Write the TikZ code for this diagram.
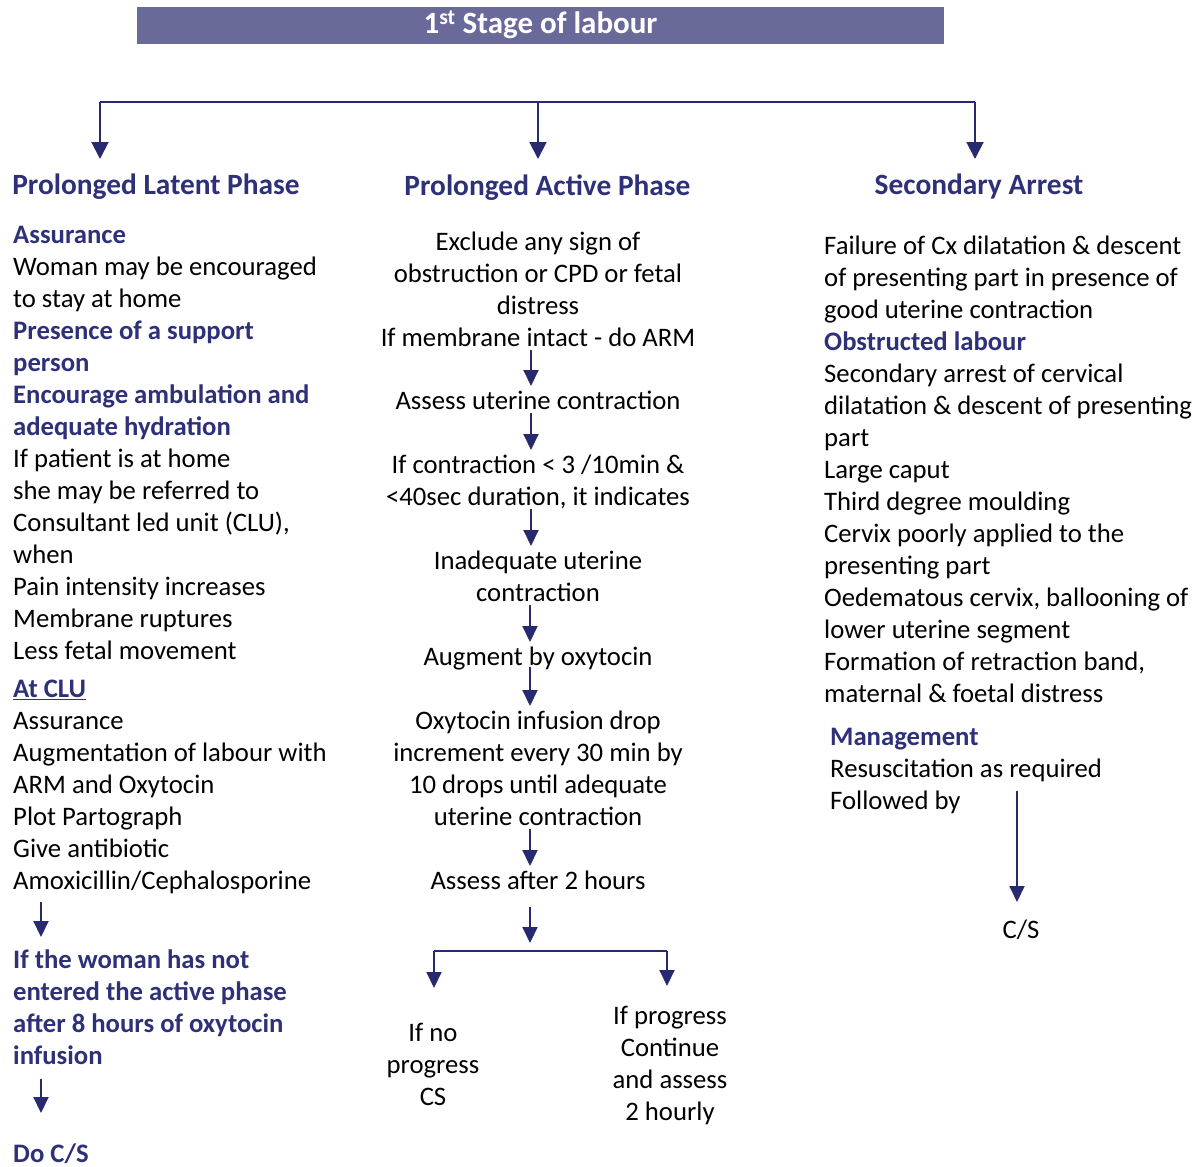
\documentclass[tikz,border=0pt]{standalone}
\usepackage{fontspec}
\setmainfont{Carlito}
\usetikzlibrary{arrows.meta}
\definecolor{barfill}{RGB}{106,106,154}
\definecolor{navy}{RGB}{46,48,120}
\definecolor{arrowc}{RGB}{40,42,112}
% struts that fix the height of a first line and the depth of a last line
\newcommand{\tp}{\rule{0pt}{22pt}}
\newcommand{\bt}{\rule[-5pt]{0pt}{5pt}}
\newcommand{\hd}[1]{{\bfseries\color{navy}#1}}

\begin{document}
\begin{tikzpicture}[x=1pt,y=-1pt,
  body/.style={inner sep=0pt, font=\fontsize{26.7}{32}\selectfont, align=left, anchor=north west},
  mid/.style={inner sep=0pt, font=\fontsize{26.7}{32}\selectfont, align=center, anchor=north},
  phase/.style={inner sep=0pt, font=\fontsize{29.4}{34}\selectfont\bfseries, text=navy, anchor=north},
  arr/.style={draw=arrowc, line width=2pt, -{Triangle[width=15pt,length=16pt]}},
  bigarr/.style={draw=arrowc, line width=2pt, -{Triangle[width=17pt,length=17pt]}},
  link/.style={draw=arrowc, line width=2pt}
]
\useasboundingbox (0,0) rectangle (1200,1167);

% title bar
\node[fill=barfill, minimum width=807pt, minimum height=37pt, inner sep=0pt,
      text=white, font=\fontsize{31}{34}\selectfont\bfseries] (title) at (540.5,25)
      {\raisebox{-2pt}{1\textsuperscript{st} Stage of labour}};

% phase headings
\node[phase] (plp) at (156,172) {\tp Prolonged Latent Phase};
\node[phase] (pap) at (547.5,173) {\tp Prolonged Active Phase};
\node[phase] (sar) at (979,172) {\tp Secondary Arrest};

% branching connector
\coordinate (tl) at (100,102);
\coordinate (tm) at (538,102);
\coordinate (tr) at (975,102);
\draw[link] (tl) -- (tr);
\draw[bigarr, shorten >=13pt] (tl) -- (tl |- plp.north);
\draw[bigarr, shorten >=14pt] (tm) -- (tm |- pap.north);
\draw[bigarr, shorten >=13pt] (tr) -- (tr |- sar.north);

% ---------- left column ----------
\node[body] (lat) at (13,221) {\tp\hd{Assurance}\\
  Woman may be encouraged\\
  to stay at home\\
  \hd{Presence of a support}\\
  \hd{person}\\
  \hd{Encourage ambulation and}\\
  \hd{adequate hydration}\\
  If patient is at home\\
  she may be referred to\\
  Consultant led unit (CLU),\\
  when\\
  Pain intensity increases\\
  Membrane ruptures\\
  Less fetal movement\bt};

\node[body] (clu) at (13,675) {\tp\hd{\underline{At CLU}}\\
  Assurance\\
  Augmentation of labour with\\
  ARM and Oxytocin\\
  Plot Partograph\\
  Give antibiotic\\
  Amoxicillin/Cephalosporine\bt};

\node[body] (noact) at (13,946) {\tp\hd{If the woman has not}\\
  \hd{entered the active phase}\\
  \hd{after 8 hours of oxytocin}\\
  \hd{infusion}\bt};

\node[body] (docs) at (13,1140) {\tp\hd{Do C/S}};

\coordinate (lx) at (41,0);
\draw[arr, shorten <=8pt, shorten >=9pt] (clu.south -| lx) -- (noact.north -| lx);
\draw[arr, shorten <=10pt, shorten >=27pt] (noact.south -| lx) -- (docs.north -| lx);

% ---------- middle column ----------
\node[mid] (m1) at (538,228) {\tp Exclude any sign of\\
  obstruction or CPD or fetal\\
  distress\\
  If membrane intact - do ARM\bt};
\node[mid] (m2) at (538,387) {\tp Assess uterine contraction\bt};
\node[mid] (m3) at (538,451) {\tp If contraction < 3 /10min \&\\
  <40sec duration, it indicates\bt};
\node[mid] (m4) at (538,547) {\tp Inadequate uterine\\ contraction\bt};
\node[mid] (m5) at (538,643) {\tp Augment by oxytocin\bt};
\node[mid] (m6) at (538,707) {\tp Oxytocin infusion drop\\
  increment every 30 min by\\
  10 drops until adequate\\
  uterine contraction\bt};
\node[mid] (m7) at (538,867) {\tp Assess after 2 hours\bt};

\draw[arr, shorten <=-1pt, shorten >=1pt] ([xshift=-7pt]m1.south) -- ([xshift=-7pt]m2.north);
\draw[arr, shorten <=-1pt, shorten >=1pt] ([xshift=-7pt]m2.south) -- ([xshift=-7pt]m3.north);
\draw[arr, shorten <=-1pt, shorten >=1pt] ([xshift=-7pt]m3.south) -- ([xshift=-7pt]m4.north);
\draw[arr, shorten <=-1pt, shorten >=1pt] ([xshift=-8pt]m4.south) -- ([xshift=-8pt]m5.north);
\draw[arr, shorten <=-3pt, shorten >=1pt] ([xshift=-8pt]m5.south) -- ([xshift=-8pt]m6.north);
\draw[arr, shorten <=-1pt, shorten >=1pt] ([xshift=-8pt]m6.south) -- ([xshift=-8pt]m7.north);

% outcome split
\coordinate (sm) at (530,951);
\coordinate (sl) at (434,951);
\coordinate (sr) at (667,951);
\node[mid] (nop) at (433,1019) {\tp If no\\ progress\\ CS};
\node[mid] (yesp) at (670,1002) {\tp If progress\\ Continue\\ and assess\\ 2 hourly};

\draw[arr, shorten <=13pt, shorten >=8pt] (m7.south -| sm) -- (sm);
\draw[link] (sl) -- (sr);
\draw[arr, shorten >=31pt] (sl) -- (sl |- nop.north);
\draw[arr, shorten >=16pt] (sr) -- (sr |- yesp.north);

% ---------- right column ----------
\node[body] (arrest) at (824,232) {\tp Failure of Cx dilatation \& descent\\
  of presenting part in presence of\\
  good uterine contraction\\
  \hd{Obstructed labour}\\
  Secondary arrest of cervical\\
  dilatation \& descent of presenting\\
  part\\
  Large caput\\
  Third degree moulding\\
  Cervix poorly applied to the\\
  presenting part\\
  Oedematous cervix, ballooning of\\
  lower uterine segment\\
  Formation of retraction band,\\
  maternal \& foetal distress\bt};

\node[body] (mgmt) at (830,723) {\tp\hd{Management}\\
  Resuscitation as required\\
  Followed by\bt};

\node[mid] (cs) at (1021,916) {\tp C/S};
\coordinate (fb) at (1017,791);
\draw[arr, shorten >=14pt] (fb) -- (fb |- cs.north);

\end{tikzpicture}
\end{document}
